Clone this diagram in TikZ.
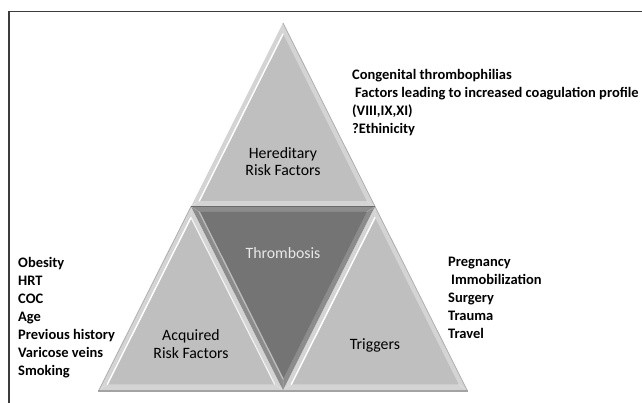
\documentclass[tikz,border=0pt]{standalone}
\usepackage{fontspec}
\setmainfont{Carlito}
\usetikzlibrary{calc}
\definecolor{rimc}{HTML}{D4D4D4}
\definecolor{facec}{HTML}{BFBFBF}
\definecolor{drimc}{HTML}{8C8C8C}
\definecolor{dfacec}{HTML}{747474}
\definecolor{shadc}{HTML}{6A6A6A}
\definecolor{framec}{HTML}{3C3C3C}
\definecolor{thrtext}{HTML}{E8E8E8}
% #1 #2 #3 vertices, #4 rim colour, #5 face colour, #6 highlight colour (edge #1-#2)
\newcommand\bevtri[6]{%
  \coordinate (bg) at (barycentric cs:#1=1,#2=1,#3=1);
  \coordinate (b1) at ($(#1)!0.09!(bg)$);
  \coordinate (b2) at ($(#2)!0.09!(bg)$);
  \coordinate (b3) at ($(#3)!0.09!(bg)$);
  \fill[#4] (#1)--(#2)--(#3)--cycle;
  \fill[#5] (b1)--(b2)--(b3)--cycle;
  \draw[#6, line width=1.4pt, line cap=round] (b1)--(b2);
  \draw[#4!70!white, line width=0.5pt] (#1)--(b1) (#2)--(b2) (#3)--(b3);
}
\begin{document}
\begin{tikzpicture}[x=1pt,y=1pt,
  listtext/.style={font=\fontsize{14.5}{18}\selectfont\bfseries, align=left, inner sep=0pt, anchor=base west},
  lbl/.style={font=\fontsize{15.8}{17.5}\selectfont, align=center, inner sep=0pt},
]
\useasboundingbox (0,0) rectangle (642,403);
\fill[white] (0,0) rectangle (642,403);
\draw[framec, line width=1.3pt] (9,0) -- (9,391.5) -- (642,391.5);

\coordinate (A)  at (283,380);
\coordinate (L)  at (191,196.5);
\coordinate (R)  at (375,196.5);
\coordinate (BL) at (99,13);
\coordinate (BM) at (283,13);
\coordinate (BR) at (467,13);

% drop shadow line under base
\draw[drimc!80!white, line width=1.2pt] ($(BL)+(-1,-1)$) -- ($(BR)+(1,-1)$);

% top triangle
\bevtri{A}{L}{R}{rimc}{facec}{white}
\draw[drimc!70!white, line width=0.8pt] (A) -- (R);
% left triangle
\bevtri{L}{BL}{BM}{rimc}{facec}{white}
\draw[white!70!rimc, line width=1.2pt] (b1) -- (b3);
\draw[drimc!70!white, line width=0.8pt] (L) -- (BL);
% right triangle
\bevtri{R}{BM}{BR}{rimc}{facec}{white}
\draw[drimc!70!white, line width=0.8pt] (R) -- (BR);
% thrombosis triangle
\bevtri{BM}{L}{R}{drimc}{dfacec}{drimc!60!white}
\draw[shadc, line width=1.4pt] (L) -- (R);

% labels inside
\node[lbl] (hered) at (283,241.5) {Hereditary\\Risk Factors};
\node[lbl, text=thrtext] (thromb) at (283,150) {Thrombosis};
\node[lbl] (acq) at (191,59) {Acquired\\Risk Factors};
\node[lbl] (trig) at (375,58) {Triggers};

% lists (anchor base = baseline of the last line)
\node[listtext, font=\fontsize{14.5}{18}\selectfont\bfseries] (herlist) at (352,269.5) {Congenital thrombophilias\\
  \hspace{3pt}Factors leading to increased coagulation profile\\
  (VIII,IX,XI)\\
  ?Ethinicity};
\node[listtext] (acqlist) at (18,27.5) {Obesity\\HRT\\COC\\Age\\Previous history\\Varicose veins\\Smoking};
\node[listtext] (triglist) at (448,64.5) {Pregnancy\\
  \hspace{3pt}Immobilization\\Surgery\\Trauma\\Travel};
\end{tikzpicture}
\end{document}
